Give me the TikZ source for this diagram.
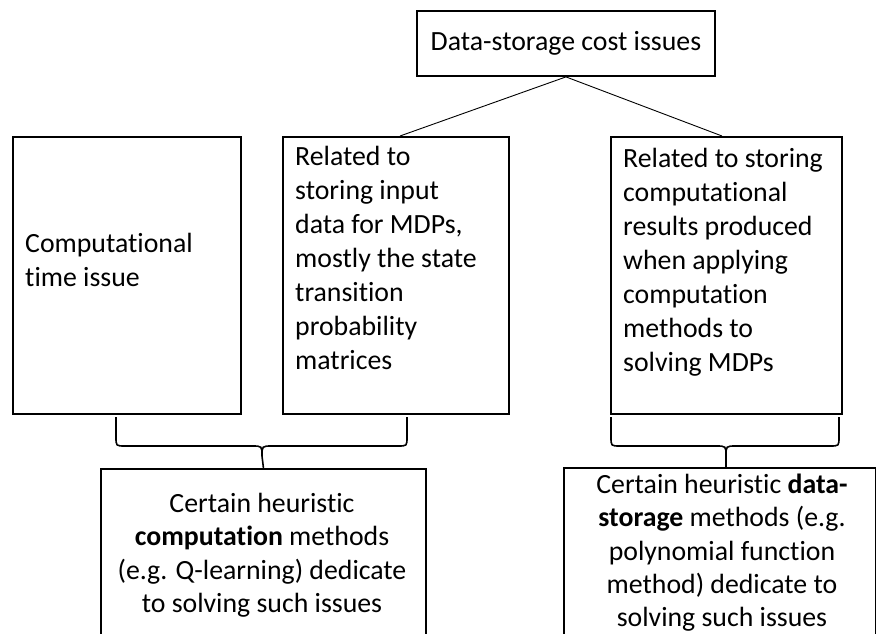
\documentclass[tikz,border=0pt]{standalone}
\usepackage{fontspec}
\setmainfont{Carlito}[Ligatures=NoCommon]
\newcommand\firstline{\rule{0pt}{24pt}}
\tikzset{
  box/.style={draw=black, line width=1.9pt, inner sep=0pt, fill=none},
  txt/.style={inner sep=0pt, font=\fontsize{27.8}{34}\selectfont},
  lowtxt/.style={inner sep=0pt, font=\fontsize{27.8}{33.4}\selectfont},
  link/.style={draw=black, line width=0.9pt},
  bracepath/.style={draw=black, line width=1.6pt, line join=round}
}
\begin{document}
\begin{tikzpicture}[x=1pt, y=-1pt]
\useasboundingbox (0,0) rectangle (876,634);

% top box
\node[box, minimum width=298pt, minimum height=65pt, anchor=north west] (top) at (416,10) {};
\node[txt, anchor=center] (toptxt) at (top.center) {Data-storage cost issues};

% three issue boxes
\node[box, minimum width=228pt, minimum height=277pt, anchor=north west] (boxA) at (12,136) {};
\node[box, minimum width=226pt, minimum height=277pt, anchor=north west] (boxB) at (282,136) {};
\node[box, minimum width=231pt, minimum height=277pt, anchor=north west] (boxC) at (610,136) {};

\node[txt, anchor=north west, align=left] (txtA) at (25,228)
  {\firstline Computational\\time issue};
\node[txt, anchor=north west, align=left] (txtB) at (295,141)
  {\firstline Related to\\storing input\\data for MDPs,\\mostly the state\\transition\\probability\\matrices};
\node[txt, anchor=north west, align=left] (txtC) at (623,143)
  {\firstline Related to storing\\computational\\results produced\\when applying\\computation\\methods to\\solving MDPs};

% method boxes, running past the lower edge
\node[box, minimum width=325pt, minimum height=190pt, anchor=north west] (boxD) at (100,468) {};
\node[box, minimum width=312pt, minimum height=190pt, anchor=north west] (boxE) at (563,467) {};

\node[lowtxt, anchor=north, align=center] (txtD) at (262,488)
  {\firstline Certain heuristic\\\textbf{computation} methods\\(e.g. Q-learning) dedicate\\to solving such issues};
\node[lowtxt, anchor=north, align=center] (txtE) at (722,469)
  {\firstline Certain heuristic \textbf{data-}\\\textbf{storage} methods (e.g.\\polynomial function\\method) dedicate to\\solving such issues};

% connectors from the top box
\draw[link] (top.south) -- ([xshift=118pt]boxB.north west);
\draw[link] (top.south) -- ([xshift=112pt]boxC.north west);

% curly braces grouping the issue boxes
\coordinate (tipD) at (boxD.north);
\coordinate (tipE) at (726,467);
\draw[bracepath] (116,417) -- (116,437) .. controls (116,446) .. (125,446)
  -- (252,446) .. controls (262,446) .. (262,456) -- (tipD);
\draw[bracepath] (407,417) -- (407,437) .. controls (407,446) .. (398,446)
  -- (272,446) .. controls (262,446) .. (262,456);
\draw[bracepath] (611,417) -- (611,437) .. controls (611,446) .. (620,446)
  -- (716,446) .. controls (726,446) .. (726,456) -- (tipE);
\draw[bracepath] (839,417) -- (839,437) .. controls (839,446) .. (830,446)
  -- (736,446) .. controls (726,446) .. (726,456);
\end{tikzpicture}
\end{document}
